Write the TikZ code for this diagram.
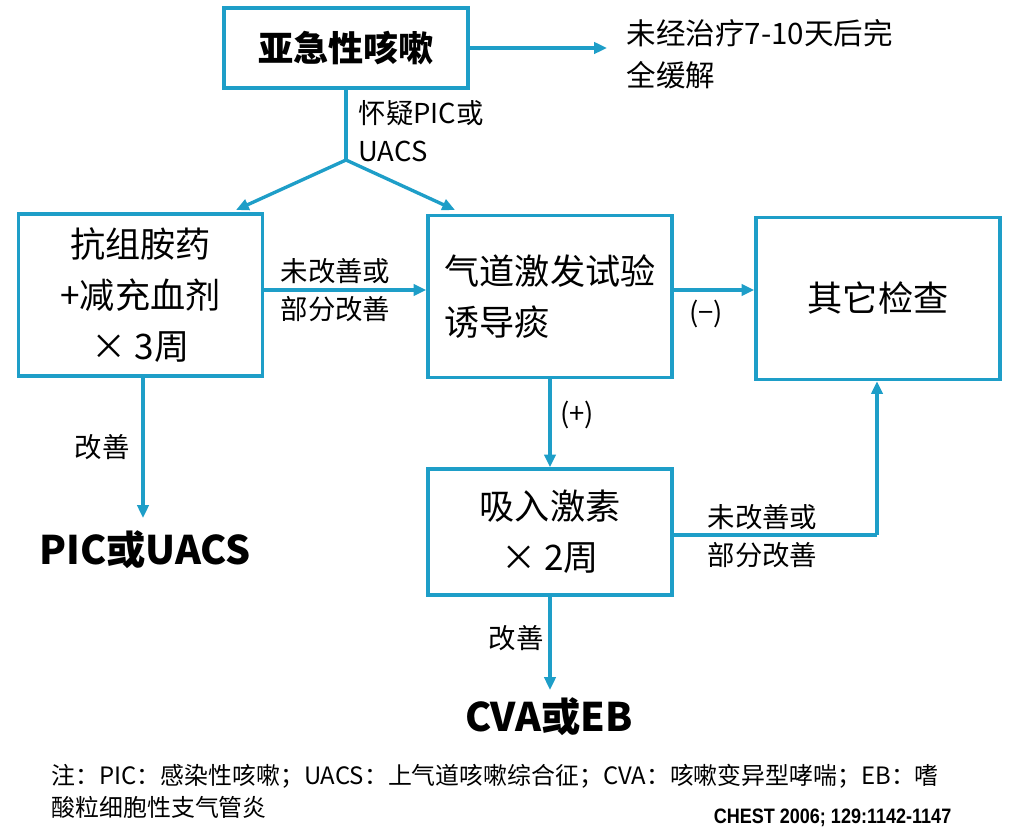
\documentclass[tikz,border=0pt]{standalone}
\usepackage{fontspec}
\setmainfont{Noto Sans CJK SC}
\newfontfamily\citefont{Liberation Sans}
\usetikzlibrary{arrows.meta,positioning}
\definecolor{flowblue}{RGB}{30,158,200}

\begin{document}
\begin{tikzpicture}[x=0.25mm,y=-0.25mm,->,>={Triangle[length=3.2mm,width=2.8mm]},line width=2.4pt,color=flowblue]
		\tikzset{box/.style={draw=flowblue,line width=2.4pt,text=black,minimum width=61mm,align=center,font=\fontsize{25}{36}\selectfont},
			lbl/.style={text=black,align=left,inner sep=0pt,font=\fontsize{19.5}{27}\selectfont},
			result/.style={text=black,inner sep=0pt,font=\fontsize{28}{32}\selectfont\bfseries}}
		\useasboundingbox (0,0) rectangle (1010,832);
		% boxes
		\node[box,minimum height=20mm,font=\fontsize{25}{30}\selectfont\bfseries] (acute) at (346,48) {亚急性咳嗽};
		\node[box,minimum height=40.5mm] (antih) at (140.5,295) {抗组胺药\\+减充血剂\\×\ 3周};
		\node[box,minimum height=40.5mm,align=left] (provoc) at (550,296.5) {气道激发试验\\诱导痰};
		\node[box,minimum height=40.5mm] (other) at (878,298.5) {其它检查};
		\node[box,minimum height=31.5mm] (ics) at (550,532) {吸入激素\\×\ 2周};
		% outcomes
		\node[lbl,anchor=west,font=\fontsize{21}{30}\selectfont] (remit) at (625,54) {未经治疗7-10天后完\\全缓解};
		\node[result] (picuacs) at (145,550) {PIC或UACS};
		\node[result] (cvaeb) at (549,717) {CVA或EB};
		\coordinate (split) at (346,160);
		\coordinate (corner) at (877,535);
		% connectors
		\draw (acute.east) -- (607,48);
		\draw[-] (acute.south) -- (split);
		\draw (split) -- (236,210);
		\draw (split) -- (455,210);
		\draw (antih.east |- 0,290) -- (provoc.west |- 0,290);
		\draw (provoc.east |- 0,290) -- (other.west |- 0,290);
		\draw (provoc.south) -- (ics.north);
		\draw[-] (ics.east |- corner) -- (corner);
		\draw (corner) -- (other.south -| corner);
		\draw (antih.south -| 143,0) -- (143,518);
		\draw (ics.south) -- (550,690);
		% labels
		\node[lbl,anchor=west] at (357,131) {怀疑PIC或\\UACS};
		\node[lbl,anchor=west] at (279,290) {未改善或\\部分改善};
		\node[lbl] at (706,314) {(−)};
		\node[lbl] at (577,415) {(+)};
		\node[lbl,anchor=west] at (706,536) {未改善或\\部分改善};
		\node[lbl] at (102,447) {改善};
		\node[lbl] at (516,638) {改善};
		% footnote
		\node[lbl,anchor=north west,font=\fontsize{17}{22.5}\selectfont] at (50,763) {注：PIC：感染性咳嗽；UACS：上气道咳嗽综合征；CVA：咳嗽变异型哮喘；EB：嗜\\酸粒细胞性支气管炎};
		\node[text=black,inner sep=0pt,anchor=east,font=\citefont\bfseries\fontsize{13.5}{15}\selectfont] at (953,818) {\scalebox{0.95}[1.1]{CHEST 2006; 129:1142-1147}};
	\end{tikzpicture}
\end{document}
